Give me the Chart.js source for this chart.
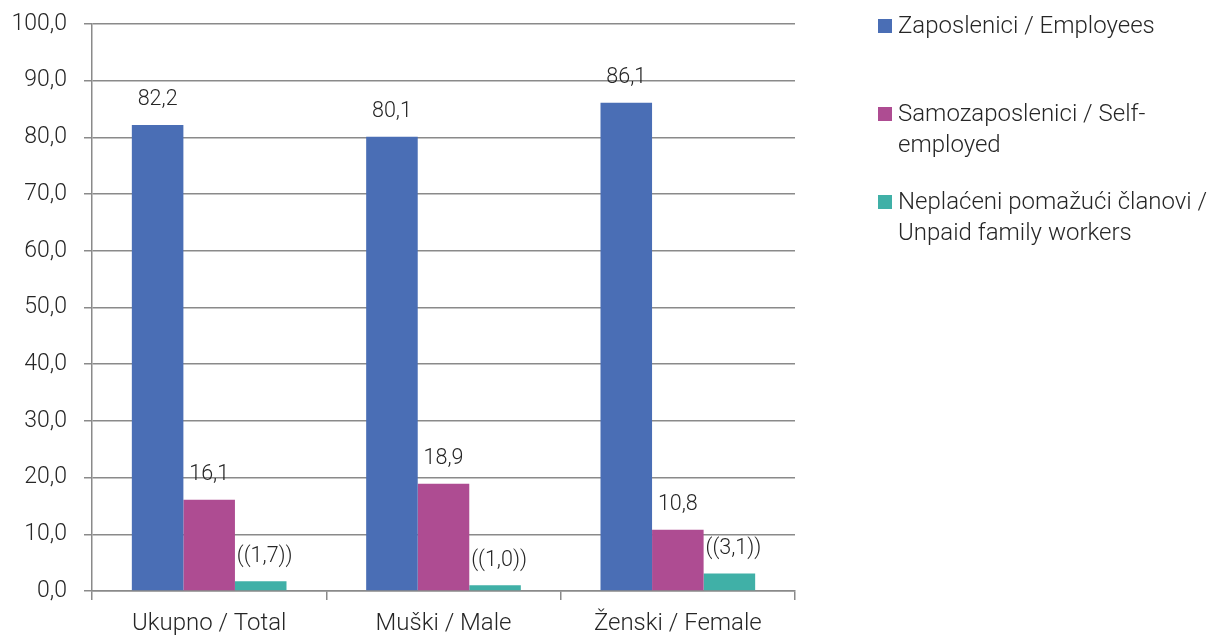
<!DOCTYPE html>
<html>
<head>
<meta charset="utf-8">
<script src="https://cdn.jsdelivr.net/npm/chart.js@4/dist/chart.umd.min.js"></script>
<style>
  html, body { margin: 0; padding: 0; background: #fff; }
  #wrap { position: relative; width: 1212px; height: 639px; }
  #legend { position: absolute; left: 0; top: 0; font-family: Roboto, "Noto Sans", sans-serif; font-weight: 300; font-size: 24px; color: #262626; }
  .item { position: absolute; left: 878px; }
  .sw { position: absolute; left: 0; width: 14px; height: 14px; }
  .tx { position: absolute; left: 20px; white-space: nowrap; line-height: 31px; }
</style>
</head>
<body>
<div id="wrap">
  <canvas id="c" width="1212" height="639"></canvas>
  <div id="legend"></div>
</div>
<script>
const categories = ['Ukupno / Total', 'Muški / Male', 'Ženski / Female'];
const seriesNames = [
  ['Zaposlenici / Employees'],
  ['Samozaposlenici / Self-', 'employed'],
  ['Neplaćeni pomažući članovi /', 'Unpaid family workers']
];
const employees = [82.2, 80.1, 86.1];
const selfEmployed = [16.1, 18.9, 10.8];
const unpaidFamily = [1.7, 1.0, 3.1];
const unpaidFlagged = [true, true, true]; // shown in double brackets
const colors = ['#4A6EB5', '#AE4C92', '#40B0A7'];
const yTicks = [0, 10, 20, 30, 40, 50, 60, 70, 80, 90, 100];

const FAMILY = 'Roboto, "Noto Sans", sans-serif';
const TEXT = '#262626';
const GRID = '#8a8a8a';

function fmt(v) { return v.toFixed(1).replace('.', ','); }

const dataLabels = {
  id: 'dataLabels',
  afterDatasetsDraw(chart) {
    const ctx = chart.ctx;
    ctx.save();
    ctx.font = `300 21.5px ${FAMILY}`;
    ctx.fillStyle = TEXT;
    ctx.textAlign = 'center';
    ctx.textBaseline = 'middle';
    chart.data.datasets.forEach((ds, di) => {
      const meta = chart.getDatasetMeta(di);
      meta.data.forEach((bar, i) => {
        let t = fmt(ds.data[i]);
        let dx = 0;
        if (di === 2 && unpaidFlagged[i]) { t = '((' + t + '))'; dx = 4; }
        ctx.fillText(t, bar.x + dx, bar.y - 25);
      });
    });
    ctx.restore();
  }
};

new Chart(document.getElementById('c'), {
  type: 'bar',
  data: {
    labels: categories,
    datasets: [
      { label: seriesNames[0].join(' '), data: employees, backgroundColor: colors[0] },
      { label: seriesNames[1].join(' '), data: selfEmployed, backgroundColor: colors[1] },
      { label: seriesNames[2].join(' '), data: unpaidFamily, backgroundColor: colors[2] }
    ]
  },
  options: {
    responsive: false,
    animation: false,
    layout: { padding: { top: 24, right: 417, left: 0, bottom: 0 } },
    datasets: { bar: { categoryPercentage: 0.66, barPercentage: 1.0 } },
    plugins: { legend: { display: false }, tooltip: { enabled: false } },
    scales: {
      x: {
        grid: { display: true, drawOnChartArea: false, offset: true, color: GRID, lineWidth: 1.5, tickLength: 9, tickColor: GRID },
        border: { display: true, color: GRID, width: 1.5 },
        ticks: { color: TEXT, font: { family: FAMILY, size: 24, weight: 300 }, padding: 10 },
        afterFit(s) { s.height = 48; }
      },
      y: {
        min: 0, max: 100,
        afterBuildTicks(s) { s.ticks = yTicks.map(v => ({ value: v })); },
        grid: { color: GRID, lineWidth: 1.5, tickLength: 8, tickColor: GRID },
        border: { display: true, color: GRID, width: 1.5 },
        ticks: { color: TEXT, font: { family: FAMILY, size: 23, weight: 300 }, padding: 17, callback: v => fmt(v) },
        afterFit(s) { s.width = 92; s.paddingTop = 0; s.paddingBottom = 0; }
      }
    }
  },
  plugins: [dataLabels]
});

// HTML legend
const legendTops = [19, 107, 195];
const leg = document.getElementById('legend');
seriesNames.forEach((lines, i) => {
  const it = document.createElement('div');
  it.className = 'item';
  it.style.top = legendTops[i] + 'px';
  const sw = document.createElement('div');
  sw.className = 'sw';
  sw.style.background = colors[i];
  const tx = document.createElement('div');
  tx.className = 'tx';
  tx.style.top = '-9px';
  tx.innerHTML = lines.join('<br>');
  it.appendChild(sw); it.appendChild(tx);
  leg.appendChild(it);
});
</script>
</body>
</html>
